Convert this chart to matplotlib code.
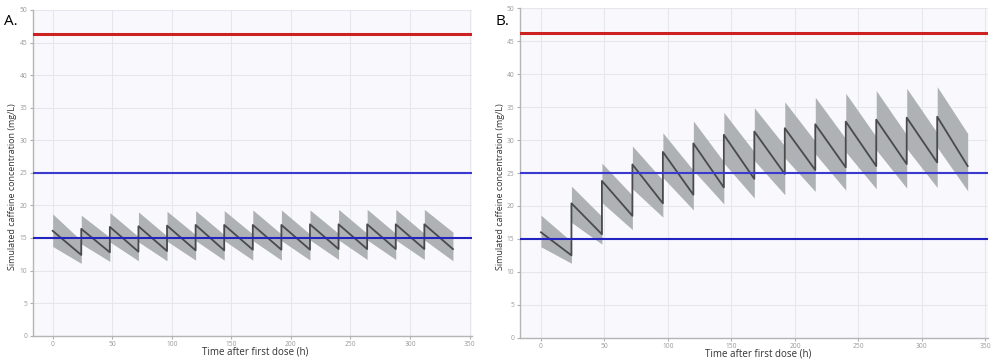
import numpy as np
import matplotlib
matplotlib.use("Agg")
import matplotlib.pyplot as plt

# ---- data ----
dose_times = [0, 24, 48, 72, 96, 120, 144, 168, 192, 216, 240, 264, 288, 312]
dose_interval = 24

# Panel A (maintenance regimen)
a_peak = [16.1, 16.4, 16.7, 16.8, 16.9, 17.0, 17.0, 17.0, 17.0, 17.1, 17.1, 17.1, 17.1, 17.1]
a_trough = [12.4, 12.8, 12.9, 13.0, 13.1, 13.1, 13.2, 13.2, 13.2, 13.3, 13.3, 13.3, 13.3, 13.3]
a_peak_hi = [18.7, 18.5, 18.9, 19.0, 19.1, 19.2, 19.2, 19.3, 19.3, 19.3, 19.4, 19.4, 19.4, 19.4]
a_peak_lo = [13.7, 14.1, 14.4, 14.4, 14.5, 14.6, 14.6, 14.6, 14.6, 14.7, 14.7, 14.7, 14.7, 14.7]
a_trough_hi = [14.6, 15.1, 15.2, 15.3, 15.5, 15.5, 15.6, 15.6, 15.6, 15.7, 15.7, 15.7, 15.7, 15.9]
a_trough_lo = [11.1, 11.4, 11.5, 11.5, 11.6, 11.6, 11.6, 11.6, 11.6, 11.7, 11.7, 11.7, 11.7, 11.5]

# Panel B (accumulating regimen)
b_peak = [16.0, 20.4, 23.8, 26.3, 28.2, 29.5, 30.8, 31.3, 31.8, 32.4, 32.8, 33.1, 33.4, 33.55]
b_trough = [12.5, 15.7, 18.5, 20.4, 21.7, 22.8, 24.1, 24.85, 25.45, 25.85, 26.05, 26.35, 26.6, 26.05]
b_peak_hi = [18.6, 23.0, 26.5, 29.1, 31.1, 32.9, 34.2, 34.9, 35.8, 36.5, 37.1, 37.5, 37.85, 38.1]
b_peak_lo = [13.8, 17.5, 20.5, 22.6, 24.3, 25.4, 26.5, 26.9, 27.3, 27.9, 28.2, 28.5, 28.7, 28.9]
b_trough_hi = [14.6, 18.4, 21.6, 23.9, 25.4, 26.7, 28.2, 29.1, 29.8, 30.2, 30.5, 30.8, 31.1, 31.0]
b_trough_lo = [11.3, 14.2, 16.4, 18.3, 19.4, 20.3, 21.2, 21.7, 22.2, 22.4, 22.6, 22.7, 22.8, 22.3]

upper_threshold = 46.3   # red
target_high = 25         # blue
target_low = 15          # blue

x_ticks = [0, 50, 100, 150, 200, 250, 300, 350]
y_ticks = [0, 5, 10, 15, 20, 25, 30, 35, 40, 45, 50]
panel_labels = ["A.", "B."]
x_label = "Time after first dose (h)"
y_label = "Simulated caffeine concentration (mg/L)"

plt.rcParams['font.family'] = ['Open Sans', 'DejaVu Sans']

fig = plt.figure(figsize=(9.96, 3.62), dpi=100)
fig.patch.set_facecolor('white')

rects = [
    [33 / 996, 1 - 335.7 / 362, (472 - 33) / 996, (335.7 - 10) / 362],
    [520 / 996, 1 - 337.7 / 362, (988 - 520) / 996, (337.7 - 8.3) / 362],
]
datasets = [
    (a_peak, a_trough, a_peak_hi, a_peak_lo, a_trough_hi, a_trough_lo),
    (b_peak, b_trough, b_peak_hi, b_peak_lo, b_trough_hi, b_trough_lo),
]
label_pos = [(0.004, 0.93), (0.497, 0.93)]
xlabel_xy = [(255, 352), (758, 354)]
ylabel_xy = [(13, 187), (500, 187)]

for i, (rect, data) in enumerate(zip(rects, datasets)):
    peak, trough, phi, plo, thi, tlo = data
    ax = fig.add_axes(rect)
    ax.set_facecolor('#f9f9fd')
    for k, t0 in enumerate(dose_times):
        t1 = t0 + dose_interval
        ax.fill_between([t0, t1], [plo[k], tlo[k]], [phi[k], thi[k]],
                        color='#aaaeb1', alpha=0.95, linewidth=0, zorder=2)
    xs, ys = [], []
    for k, t0 in enumerate(dose_times):
        xs += [t0, t0 + dose_interval]
        ys += [peak[k], trough[k]]
    ax.plot(xs, ys, color='#4a4a4c', lw=1.3, zorder=3)
    ax.axhline(upper_threshold, color='#cc2222', lw=2.2, zorder=4)
    ax.axhline(target_high, color='#3a3ad0', lw=1.5, zorder=4)
    ax.axhline(target_low, color='#2323c0', lw=1.5, zorder=4)

    ax.set_xlim(-16.5, 352)
    ax.set_ylim(0, 50)
    ax.set_xticks(x_ticks)
    ax.set_yticks(y_ticks)
    ax.grid(True, color='#e6e6ef', lw=0.8, zorder=0)
    ax.set_axisbelow(True)
    for s in ['top', 'right']:
        ax.spines[s].set_visible(False)
    for s in ['left', 'bottom']:
        ax.spines[s].set_color('#b5b5b5')
        ax.spines[s].set_linewidth(1.0)
    ax.tick_params(axis='both', labelsize=4.8, colors='#b0b0b0', labelcolor='#999999',
                   length=2.5, width=0.8, pad=1.5)
    fig.text(ylabel_xy[i][0] / 996, 1 - ylabel_xy[i][1] / 362, y_label, rotation=90,
             fontsize=6.5, color='#333333', ha='center', va='center')
    fig.text(xlabel_xy[i][0] / 996, 1 - xlabel_xy[i][1] / 362, x_label,
             fontsize=7, color='#333333', ha='center', va='center')
    fig.text(label_pos[i][0], label_pos[i][1], panel_labels[i], fontsize=11, color='black')

fig.savefig('out.png', dpi=100)
